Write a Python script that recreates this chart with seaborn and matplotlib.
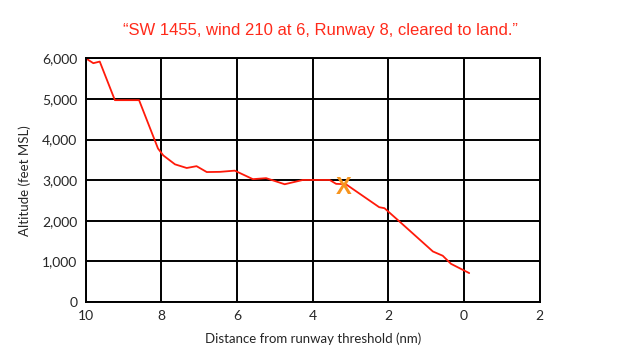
import matplotlib
matplotlib.use('Agg')
import matplotlib.pyplot as plt
import seaborn as sns
import pandas as pd

# flight path
distance_nm = [10.0, 9.8, 9.63, 9.23, 8.59, 8.09, 7.95, 7.64, 7.33, 7.07, 6.8, 6.45,
               6.06, 5.58, 5.23, 4.74, 4.26, 3.55, 3.38, 3.12, 2.24, 2.1, 1.7,
               0.82, 0.56, 0.34, -0.14]
altitude_ft = [6000, 5880, 5920, 4970, 4970, 3780, 3610, 3390, 3300, 3345, 3200, 3205,
               3235, 3025, 3050, 2900, 3005, 3005, 2910, 2900, 2335, 2310, 1980,
               1245, 1140, 940, 713]
marker_nm = 3.18
marker_ft = 2830
x_ticks = [10, 8, 6, 4, 2, 0, -2]
y_ticks = [0, 1000, 2000, 3000, 4000, 5000, 6000]

df = pd.DataFrame({'dist': distance_nm, 'alt': altitude_ft})

sns.set_style('white')
plt.rcParams['font.family'] = ['Lato', 'DejaVu Sans']

fig = plt.figure(figsize=(6.4, 3.6), dpi=100)
ax = fig.add_axes([0.134, 0.161, 0.709, 0.677])

sns.lineplot(data=df, x='dist', y='alt', color='#ff1a0a', linewidth=1.3, ax=ax, sort=False)
ax.text(marker_nm, marker_ft, 'X', color='#f7941d', fontsize=17, fontweight='bold',
        ha='center', va='center', family='Liberation Sans', zorder=5)

ax.set_xlim(10, -2)
ax.set_ylim(0, 6000)
ax.set_xticks(x_ticks)
ax.set_xticklabels([str(abs(t)) for t in x_ticks])
ax.set_yticks(y_ticks)
ax.set_yticklabels([f'{t:,}' for t in y_ticks])
ax.grid(True, color='black', linewidth=1.4)
ax.set_axisbelow(True)
for s in ax.spines.values():
    s.set_color('black')
    s.set_linewidth(1.4)
ax.tick_params(axis='both', direction='out', length=4, width=1.4, color='black',
               labelsize=10, pad=2)

ax.set_xlabel('Distance from runway threshold (nm)', fontsize=9.5, labelpad=7)
ax.set_ylabel('Altitude (feet MSL)', fontsize=9.5, labelpad=8)

fig.text(0.5, 0.915, '\u201cSW 1455, wind 210 at 6, Runway 8, cleared to land.\u201d',
         color='#ff2a1a', fontsize=12, ha='center', va='center', family='Liberation Sans')

fig.savefig('out.png', dpi=100)
